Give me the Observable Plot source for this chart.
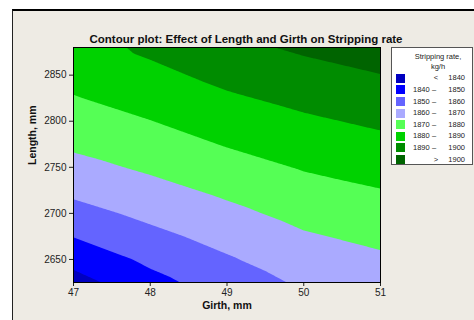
<!DOCTYPE html>
<html><head><meta charset="utf-8">
<script src="https://cdn.jsdelivr.net/npm/d3@7"></script>
<script src="https://cdn.jsdelivr.net/npm/@observablehq/plot@0.6"></script>
<style>
body{margin:0;background:#fff;width:474px;height:320px;overflow:hidden;position:relative;font-family:"Liberation Sans",Arial,sans-serif;}
#panel{position:absolute;left:12px;top:9px;width:462px;height:311px;background:#EEEBE4;border-top:2px solid #000;border-left:1px solid #222;box-sizing:border-box;}
#chart{position:absolute;left:0;top:0;}
#legend{position:absolute;left:391px;top:47px;width:82px;height:118px;background:#fff;border:1px solid #555;box-sizing:border-box;font-size:7.5px;color:#222;}
#legend div{position:absolute;white-space:nowrap;line-height:1;}
</style></head>
<body>
<div id="panel"></div>
<div id="chart"></div>
<div id="legend"></div>
<script>
const title = "Contour plot: Effect of Length and Girth on Stripping rate";
const xLabel = "Girth, mm";
const yLabel = "Length, mm";
const legendTitle = ["Stripping rate,", "kg/h"];

// sample grid
const girths = [47, 48, 49, 50, 51];
const lengths = [2625, 2650, 2675, 2700, 2725, 2750, 2775, 2800, 2825, 2850, 2880];
// rows follow lengths, columns follow girths (kg/h)
const rates = [
  [1836.0, 1847.0, 1854.7, 1861.5, 1864.8],
  [1843.3, 1852.0, 1859.0, 1865.3, 1868.5],
  [1850.3, 1857.4, 1863.3, 1869.0, 1872.2],
  [1856.5, 1862.4, 1867.6, 1872.9, 1876.0],
  [1862.2, 1867.0, 1871.9, 1876.8, 1879.7],
  [1867.1, 1871.5, 1876.3, 1880.7, 1883.7],
  [1871.6, 1875.7, 1880.6, 1884.6, 1887.6],
  [1875.6, 1879.8, 1884.6, 1888.5, 1891.6],
  [1879.5, 1883.7, 1888.7, 1892.5, 1895.7],
  [1882.8, 1887.5, 1892.7, 1896.6, 1899.8],
  [1885.5, 1892.0, 1897.5, 1901.5, 1904.8]
];

const girthTicks = [47, 48, 49, 50, 51];
const lengthTicks = [2650, 2700, 2750, 2800, 2850];
const bandBreaks = [1840, 1850, 1860, 1870, 1880, 1890, 1900];
const bandColors = ["#0000C0", "#0000FF", "#6464FF", "#AAAAFF", "#55FF55", "#00D200", "#008C00", "#006400"];

const table = [];
lengths.forEach((L, i) => girths.forEach((g, j) => table.push({girth: g, length: L, rate: rates[i][j]})));

const font = "'Liberation Sans', Arial, sans-serif";
const plot = Plot.plot({
  width: 474, height: 320,
  marginLeft: 73, marginRight: 94, marginTop: 47, marginBottom: 38,
  style: {background: "transparent", fontFamily: font, fontSize: "10px", color: "#222", overflow: "visible"},
  x: {domain: [47, 51], ticks: girthTicks, tickFormat: "d", tickSize: 4, tickPadding: 2, label: null},
  y: {domain: [2625, 2880], ticks: lengthTicks, tickFormat: "d", tickSize: 4, tickPadding: 3, label: null},
  color: {type: "threshold", domain: bandBreaks, range: bandColors},
  marks: [
    Plot.contour(table, {x: "girth", y: "length", fill: "rate", interpolate: "barycentric",
      thresholds: [1800, ...bandBreaks], pixelSize: 1, clip: true}),
    Plot.frame({stroke: "#000"}),
    Plot.text([title], {frameAnchor: "top", dx: 19, dy: -13, fontWeight: "bold", fontSize: 11.5, fill: "#111"}),
    Plot.text([xLabel], {frameAnchor: "bottom", dy: 26, fontWeight: "bold", fontSize: 10.5, fill: "#111"}),
    Plot.text([yLabel], {frameAnchor: "left", dx: -41, rotate: -90, fontWeight: "bold", fontSize: 10.5, fill: "#111"})
  ]
});
document.getElementById("chart").append(plot);

// legend
const lg = document.getElementById("legend");
function add(text, css) {
  const d = document.createElement("div");
  d.textContent = text;
  Object.assign(d.style, css);
  lg.append(d);
}
add(legendTitle[0], {left: "0px", width: "92px", textAlign: "center", top: "5px"});
add(legendTitle[1], {left: "0px", width: "92px", textAlign: "center", top: "14.5px"});
bandColors.forEach((c, i) => {
  const cy = 30.3 + 11.6 * i;
  const sw = document.createElement("div");
  Object.assign(sw.style, {left: "4px", top: (cy - 4.5) + "px", width: "9px", height: "9px", background: c});
  lg.append(sw);
  const ty = (cy - 4) + "px";
  if (i === 0) {
    add("<", {left: "40px", width: "8px", textAlign: "center", top: ty});
    add(String(bandBreaks[0]), {right: "7px", top: ty});
  } else if (i === bandColors.length - 1) {
    add(">", {left: "40px", width: "8px", textAlign: "center", top: ty});
    add(String(bandBreaks[bandBreaks.length - 1]), {right: "7px", top: ty});
  } else {
    add(String(bandBreaks[i - 1]), {left: "21px", top: ty});
    add("–", {left: "38px", width: "8px", textAlign: "center", top: ty});
    add(String(bandBreaks[i]), {right: "7px", top: ty});
  }
});
</script>
</body></html>
